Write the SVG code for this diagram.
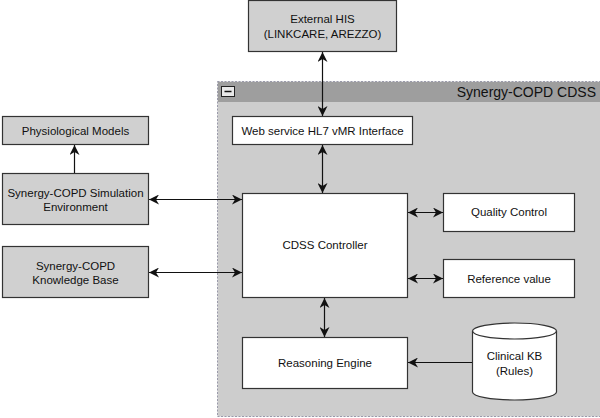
<svg xmlns="http://www.w3.org/2000/svg" width="600" height="418" viewBox="0 0 600 418">
<style>
text{font-family:"Liberation Sans",Arial,sans-serif;font-size:11.5px;fill:#111;text-anchor:middle}
.g{fill:#d0d0d0;stroke:#333;stroke-width:1.2}
.w{fill:#fff;stroke:#333;stroke-width:1.2}
.c{fill:none;stroke:#111;stroke-width:1.2}
</style>
<defs>
<marker id="ah" viewBox="0 0 10 10" refX="10" refY="5" markerWidth="10" markerHeight="10" markerUnits="userSpaceOnUse" orient="auto-start-reverse">
<path d="M0,0 L10,5 L0,10 L3,5 z" fill="#111"/>
</marker>
</defs>
<g id="container">
<rect x="217.5" y="81.5" width="390" height="335" fill="#cdcdcd" stroke="#9a9aaa" stroke-dasharray="2,1.5"/>
<rect x="218" y="82" width="382" height="20" fill="#9e9e9e"/>
<rect x="221.5" y="86.5" width="13" height="10" fill="#e8e8e8" stroke="#222"/>
<line x1="224.5" y1="91.5" x2="231.5" y2="91.5" stroke="#111" stroke-width="1.5"/>
<text x="596" y="97" style="text-anchor:end;font-size:14px">Synergy-COPD CDSS</text>
</g>
<g id="external-his">
<rect class="g" x="248.5" y="0.5" width="148" height="51"/>
<text x="322.5" y="23">External HIS</text>
<text x="322.5" y="38">(LINKCARE, AREZZO)</text>
</g>
<g id="web-service">
<rect class="w" x="232.5" y="116.5" width="180" height="28"/>
<text x="322.5" y="135">Web service HL7 vMR Interface</text>
</g>
<g id="physiological-models">
<rect class="g" x="2.5" y="116.5" width="146" height="28"/>
<text x="75.5" y="135">Physiological Models</text>
</g>
<g id="simulation-env">
<rect class="g" x="2.5" y="173.5" width="146" height="51"/>
<text x="75.5" y="197">Synergy-COPD Simulation</text>
<text x="75.5" y="211">Environment</text>
</g>
<g id="knowledge-base">
<rect class="g" x="2.5" y="246.5" width="146" height="51"/>
<text x="75.5" y="270">Synergy-COPD</text>
<text x="75.5" y="284">Knowledge Base</text>
</g>
<g id="cdss-controller">
<rect class="w" x="242.5" y="193.5" width="165" height="104"/>
<text x="325" y="249">CDSS Controller</text>
</g>
<g id="quality-control">
<rect class="w" x="443.5" y="193.5" width="131" height="38"/>
<text x="509" y="216">Quality Control</text>
</g>
<g id="reference-value">
<rect class="w" x="443.5" y="259.5" width="131" height="38"/>
<text x="509" y="283">Reference value</text>
</g>
<g id="reasoning-engine">
<rect class="w" x="242.5" y="337.5" width="165" height="51"/>
<text x="325" y="367">Reasoning Engine</text>
</g>
<g id="clinical-kb">
<path class="w" d="M472.5,331 L472.5,392 A42,8 0 0 0 556.5,392 L556.5,331 A42,8 0 0 0 472.5,331 Z"/>
<path d="M472.5,331 A42,8 0 0 0 556.5,331" fill="none" stroke="#333" stroke-width="1.2"/>
<text x="514.5" y="360">Clinical KB</text>
<text x="514.5" y="375">(Rules)</text>
</g>
<g id="connectors">
<line class="c" x1="322.5" y1="52" x2="322.5" y2="116" marker-start="url(#ah)" marker-end="url(#ah)"/>
<line class="c" x1="322.5" y1="145" x2="322.5" y2="193" marker-start="url(#ah)" marker-end="url(#ah)"/>
<line class="c" x1="74.5" y1="173" x2="74.5" y2="145" marker-end="url(#ah)"/>
<line class="c" x1="149" y1="199.5" x2="242" y2="199.5" marker-start="url(#ah)" marker-end="url(#ah)"/>
<line class="c" x1="149" y1="272.5" x2="242" y2="272.5" marker-start="url(#ah)" marker-end="url(#ah)"/>
<line class="c" x1="408" y1="212.5" x2="443" y2="212.5" marker-start="url(#ah)" marker-end="url(#ah)"/>
<line class="c" x1="408" y1="278.5" x2="443" y2="278.5" marker-start="url(#ah)" marker-end="url(#ah)"/>
<line class="c" x1="324.5" y1="298" x2="324.5" y2="337" marker-start="url(#ah)" marker-end="url(#ah)"/>
<line class="c" x1="472" y1="362.5" x2="408" y2="362.5" marker-end="url(#ah)"/>
</g>
</svg>
